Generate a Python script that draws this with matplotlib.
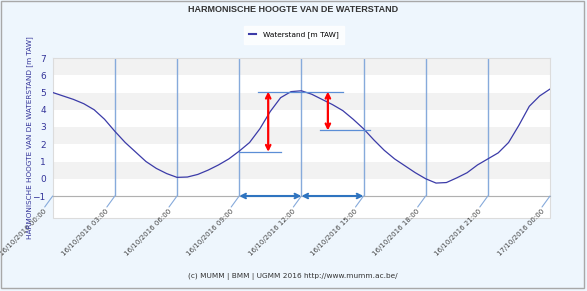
import matplotlib
matplotlib.use('Agg')

import matplotlib.pyplot as plt
from matplotlib import patches, transforms

# harmonic water level, 16/10/2016 00:00 -> 17/10/2016 00:00
hours = [0, 0.5, 1, 1.5, 2, 2.5, 3, 3.5, 4, 4.5, 5, 5.5, 6, 6.5, 7, 7.5,
         8, 8.5, 9, 9.5, 10, 10.5, 11, 11.5, 12, 12.5, 13, 13.5, 14, 14.5,
         15, 15.5, 16, 16.5, 17, 17.5, 18, 18.5, 19, 19.5, 20, 20.5, 21,
         21.5, 22, 22.5, 23, 23.5, 24]
level = [5.0, 4.8, 4.6, 4.35, 4.0, 3.45, 2.75, 2.1, 1.55, 1.0, 0.6, 0.3,
         0.08, 0.1, 0.25, 0.5, 0.8, 1.15, 1.6, 2.1, 2.9, 3.9, 4.7, 5.05,
         5.1, 4.9, 4.6, 4.3, 3.95, 3.45, 2.9, 2.25, 1.65, 1.15, 0.75, 0.35,
         0.0, -0.25, -0.22, 0.05, 0.35, 0.8, 1.15, 1.5, 2.1, 3.1, 4.2, 4.8,
         5.2]

tick_hours = [0, 3, 6, 9, 12, 15, 18, 21, 24]
tick_labels = ['16/10/2016 00:00', '16/10/2016 03:00', '16/10/2016 06:00',
               '16/10/2016 09:00', '16/10/2016 12:00', '16/10/2016 15:00',
               '16/10/2016 18:00', '16/10/2016 21:00', '17/10/2016 00:00']

# annotations: (x, y_from, y_to) for red arrows, reference lines (x0, x1, y)
red_arrows = [(10.4, 5.05, 1.56), (13.28, 5.05, 2.8)]
ref_lines = [(9.92, 14.0, 5.05), (9.0, 11.03, 1.56), (12.9, 15.33, 2.8)]
blue_arrows = [(9, 12), (12, 15)]

bg = '#eef6fd'
navy = '#333399'

fig = plt.figure(figsize=(5.87, 2.91), dpi=100, facecolor=bg)
ax = fig.add_axes([52.7 / 587, 95 / 291, (550 - 52.7) / 587, 138 / 291])
ax.set_facecolor('white')

ax.set_xlim(0, 24)
ax.set_ylim(-1, 7)

for k in range(-1, 7):
    if k % 2 == 0:
        ax.axhspan(k, k + 1, color='#f2f2f2', lw=0, zorder=0)

for h in tick_hours[1:-1]:
    ax.axvline(h, color='#86aadb', lw=1, zorder=1)

for name in ['top', 'right', 'left']:
    ax.spines[name].set_color('#dcdcdc')
ax.spines['bottom'].set_color('#b0b0b0')

ax.plot(hours, level, color='#3b3ba8', lw=0.9, zorder=3,
        label='Waterstand [m TAW]')

for x0, x1, y in ref_lines:
    ax.plot([x0, x1], [y, y], color='#5b8ed6', lw=0.9, zorder=3)

for x, y0, y1 in red_arrows:
    ax.annotate('', xy=(x, y1), xytext=(x, y0),
                arrowprops=dict(arrowstyle='<->', color='red', lw=1.6,
                                mutation_scale=8, shrinkA=0, shrinkB=0),
                zorder=4)

for x0, x1 in blue_arrows:
    ax.annotate('', xy=(x1, -1), xytext=(x0, -1), annotation_clip=False,
                arrowprops=dict(arrowstyle='<->', color='#2f74c0', lw=1.5,
                                mutation_scale=8, shrinkA=0, shrinkB=0),
                zorder=5)

# floor below the plot area
floor = patches.Rectangle((0, -22 / 138), 1, 22 / 138, transform=ax.transAxes,
                          facecolor='white', edgecolor='#dcdcdc', lw=0.8,
                          clip_on=False, zorder=0.5)
ax.add_patch(floor)

# diagonal leader lines to the labels
for h in tick_hours:
    ax.annotate('', xy=(h, -1), xytext=(-8, -11), textcoords='offset pixels',
                annotation_clip=False,
                arrowprops=dict(arrowstyle='-', color='#86aadb', lw=0.8,
                                shrinkA=0, shrinkB=0))

ax.set_xticks(tick_hours)
ax.set_xticklabels(tick_labels, rotation=45, ha='right', va='top',
                   rotation_mode='anchor', fontsize=5, color='#444444')
ax.tick_params(axis='x', length=0, pad=8.5)
shift = transforms.ScaledTranslation(-0.09, 0, fig.dpi_scale_trans)
for lab in ax.get_xticklabels():
    lab.set_transform(lab.get_transform() + shift)

ax.set_yticks(range(-1, 8))
ax.tick_params(axis='y', length=0, pad=5, labelsize=6.5, labelcolor=navy)

fig.text(30 / 587, 1 - 138 / 291, 'HARMONISCHE HOOGTE VAN DE WATERSTAND [m TAW]',
         rotation=90, ha='center', va='center', fontsize=5.2, color=navy)

fig.text(293 / 587, 1 - 9 / 291, 'HARMONISCHE HOOGTE VAN DE WATERSTAND',
         ha='center', va='center', fontsize=6.5, fontweight='bold',
         color='#333333', family='Liberation Sans')

leg = fig.legend(loc='center', bbox_to_anchor=(294 / 587, 1 - 35 / 291),
                 fontsize=5.3, frameon=True, fancybox=False, handlelength=0.9,
                 borderpad=0.7, handletextpad=0.9)
leg.get_frame().set_facecolor('white')
leg.get_frame().set_edgecolor('white')
leg.get_lines()[0].set_linewidth(1.5)

fig.text(293 / 587, 1 - 277 / 291,
         '(c) MUMM | BMM | UGMM 2016 http://www.mumm.ac.be/',
         ha='center', va='center', fontsize=5.3, color='#333333')

fig.patches.append(patches.Rectangle((1 / 587, 3 / 291), 583 / 587, 287 / 291,
                                     transform=fig.transFigure, fill=False,
                                     edgecolor='#a8a8a8', lw=1))

fig.savefig('out.png', dpi=100, facecolor=bg)
